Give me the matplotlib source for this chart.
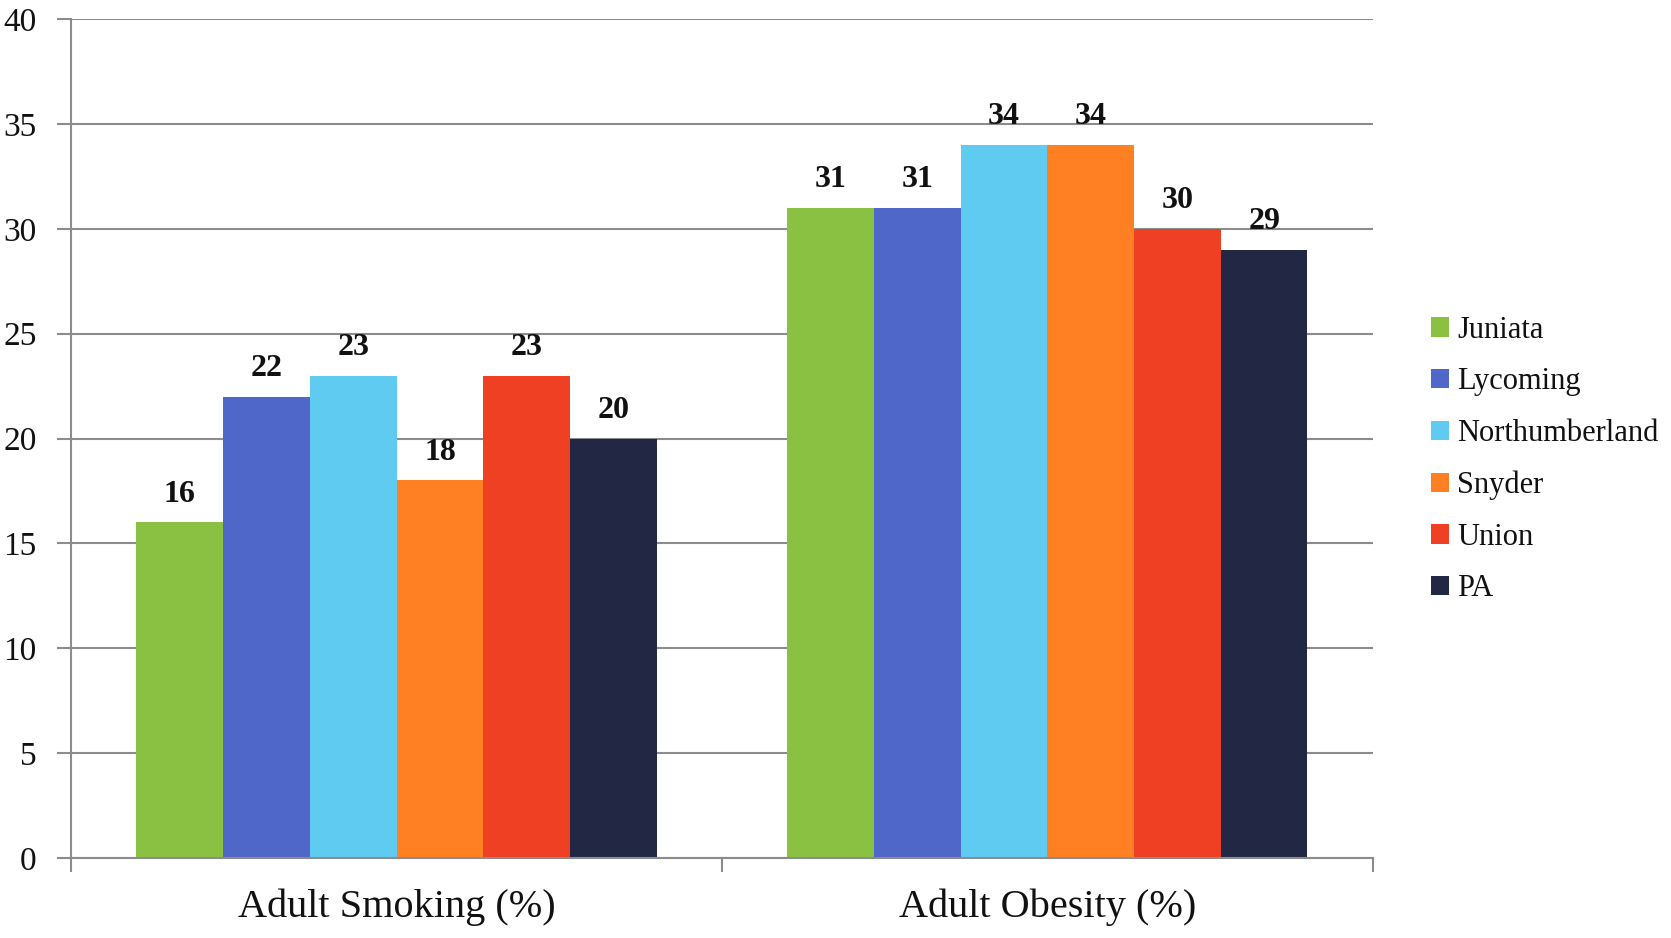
import matplotlib
matplotlib.use("Agg")
import matplotlib.pyplot as plt
import numpy as np

categories = ["Adult Smoking (%)", "Adult Obesity (%)"]
series_names = ["Juniata", "Lycoming", "Northumberland", "Snyder", "Union", "PA"]
juniata = [16, 31]
lycoming = [22, 31]
northumberland = [23, 34]
snyder = [18, 34]
union = [23, 30]
pa = [20, 29]
y_ticks = [0, 5, 10, 15, 20, 25, 30, 35, 40]

series_values = [juniata, lycoming, northumberland, snyder, union, pa]
colors = ["#8BC142", "#4F67C8", "#5FCBF1", "#FF8022", "#EF4023", "#222744"]

plt.rcParams["font.family"] = ["Liberation Serif", "DejaVu Serif"]
grid_gray = "#8C8C8C"

fig = plt.figure(figsize=(16.71, 9.38), dpi=100)
ax = fig.add_axes([0.0427, 0.0854, 0.7787, 0.8941])

x = np.arange(len(categories))
group_width = 0.8
bar_w = group_width / len(series_names)

for i, (name, vals, col) in enumerate(zip(series_names, series_values, colors)):
    offs = -group_width / 2 + bar_w * (i + 0.5)
    bars = ax.bar(x + offs, vals, width=bar_w, color=col, label=name, zorder=3,
                  linewidth=0)
    for b, v in zip(bars, vals):
        ax.annotate(f"{v}", (b.get_x() + b.get_width() / 2, v),
                    xytext=(0, 10), textcoords="offset points",
                    ha="center", va="bottom", fontsize=23, fontweight="bold",
                    color="#111111")

ax.set_xlim(-0.5, len(categories) - 0.5)
ax.set_ylim(0, 40)
ax.set_yticks(y_ticks)
ax.set_yticklabels([str(t) for t in y_ticks])

ax.set_xticks(x)
ax.set_xticklabels(categories, fontsize=29)
ax.set_xticks(np.arange(-0.5, len(categories)), minor=True)
ax.tick_params(axis="x", which="major", length=0, pad=22, colors="#111111")
ax.tick_params(axis="x", which="minor", length=10, width=1.5, color=grid_gray)
ax.tick_params(axis="y", which="major", length=10, width=1.5, color=grid_gray,
               labelsize=24, pad=15, labelcolor="#111111")

ax.yaxis.grid(True, color=grid_gray, linewidth=1.5, zorder=0)
ax.set_axisbelow(True)
for side in ["top", "right"]:
    ax.spines[side].set_visible(False)
for side in ["left", "bottom"]:
    ax.spines[side].set_color(grid_gray)
    ax.spines[side].set_linewidth(1.5)
    ax.spines[side].set_zorder(4)

leg = ax.legend(loc="center left", bbox_to_anchor=(1.045, 0.475), frameon=False,
                fontsize=22, handlelength=0.6, handleheight=0.6,
                handletextpad=0.25, labelspacing=0.74, borderaxespad=0.0,
                borderpad=0.0)
for t in leg.get_texts():
    t.set_color("#111111")

fig.savefig("out.png", dpi=100)
